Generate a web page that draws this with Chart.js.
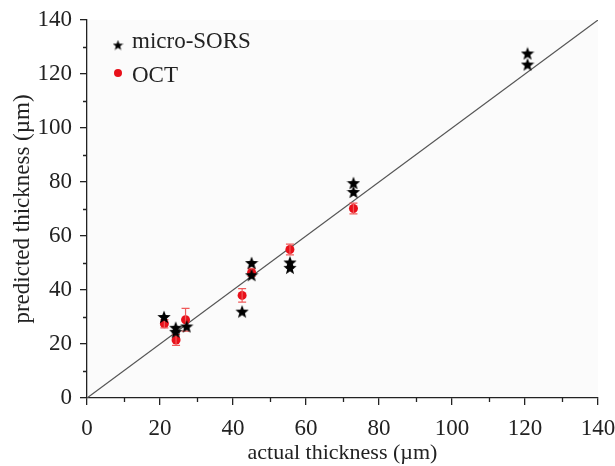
<!DOCTYPE html>
<html>
<head>
<meta charset="utf-8">
<script src="https://cdn.jsdelivr.net/npm/chart.js@4.4.1/dist/chart.umd.min.js"></script>
<style>
  html, body { margin: 0; padding: 0; background: #fff; }
  #wrap { width: 615px; height: 466px; }
</style>
</head>
<body>
<div id="wrap"><canvas id="thicknessChart" width="615" height="466"></canvas></div>
<script>
// values
const sorsX = [21.1, 24.3, 24.3, 27.3, 42.5, 45.1, 45.1, 55.6, 55.6, 73.0, 73.0, 120.7, 120.7];
const sorsY = [30.0, 26.0, 24.5, 26.5, 32.0, 50.0, 45.5, 50.2, 48.2, 79.6, 76.3, 127.6, 123.5];

const octX = [21.2, 24.4, 27.0, 42.5, 45.1, 55.6, 73.0];
const octY = [27.5, 21.5, 29.0, 38.0, 46.5, 55.0, 70.2];
const octErr = [1.5, 2.0, 4.2, 2.5, 1.5, 2.0, 2.0];

const lineX = [0, 140];
const lineY = [0, 140];

const xTicks = [0, 20, 40, 60, 80, 100, 120, 140];
const yTicks = [0, 20, 40, 60, 80, 100, 120, 140];

const labels = ["micro-SORS", "OCT"];
const FONT = "'Liberation Serif', 'DejaVu Serif', serif";

// filled star for the point style
function makeStar(size) {
    const c = document.createElement("canvas");
    c.width = size; c.height = size;
    const g = c.getContext("2d");
    const cx = size / 2, cy = size / 2 + 0.5;
    const R = size / 2, r = R * 0.42;
    g.beginPath();
    for (let i = 0; i < 10; i++) {
        const rad = i % 2 === 0 ? R : r;
        const a = -Math.PI / 2 + i * Math.PI / 5;
        const px = cx + rad * Math.cos(a), py = cy + rad * Math.sin(a);
        if (i === 0) g.moveTo(px, py); else g.lineTo(px, py);
    }
    g.closePath();
    g.fillStyle = "#000";
    g.fill();
    return c;
}
const star = makeStar(14);
const legendStar = makeStar(11);

//Error bars for the OCT points
const errorBars = {
    id: "errorBars",
    afterDatasetsDraw(chart) {
        const ctx = chart.ctx;
        const xs = chart.scales.x, ys = chart.scales.y;
        ctx.save();
        ctx.strokeStyle = "#f05a5a";
        ctx.lineWidth = 1.2;
        octX.forEach((x, i) => {
            const px = xs.getPixelForValue(x);
            const top = ys.getPixelForValue(octY[i] + octErr[i]);
            const bot = ys.getPixelForValue(octY[i] - octErr[i]);
            ctx.beginPath();
            ctx.moveTo(px, top); ctx.lineTo(px, bot);
            ctx.moveTo(px - 4, top); ctx.lineTo(px + 4, top);
            ctx.moveTo(px - 4, bot); ctx.lineTo(px + 4, bot);
            ctx.stroke();
        });
        ctx.restore();
        // stars on top of the red points
        const meta = chart.getDatasetMeta(1);
        meta.data.forEach(p => ctx.drawImage(star, p.x - star.width / 2, p.y - star.height / 2));
    }
};

//Minor ticks and the legend inside the plot
const decorations = {
    id: "decorations",
    beforeDraw(chart) {
        const a = chart.chartArea, ctx = chart.ctx;
        ctx.save();
        ctx.fillStyle = "#fbfbfb";
        ctx.fillRect(a.left, a.top, a.right - a.left, a.bottom - a.top);
        ctx.restore();
    },
    afterDraw(chart) {
        const ctx = chart.ctx;
        const xs = chart.scales.x, ys = chart.scales.y;
        const a = chart.chartArea;
        ctx.save();
        ctx.strokeStyle = "#222";
        ctx.lineWidth = 1.3;
        ctx.beginPath();
        for (let v = 10; v < 140; v += 20) {
            const px = Math.round(xs.getPixelForValue(v)) + 0.5;
            ctx.moveTo(px, a.bottom); ctx.lineTo(px, a.bottom + 4);
            const py = Math.round(ys.getPixelForValue(v)) + 0.5;
            ctx.moveTo(a.left, py); ctx.lineTo(a.left - 4, py);
        }
        ctx.stroke();

        ctx.font = "23px " + FONT;
        ctx.fillStyle = "#222";
        ctx.textBaseline = "alphabetic";
        ctx.drawImage(legendStar, 118 - legendStar.width / 2, 45 - legendStar.height / 2);
        ctx.fillText(labels[0], 132, 48);
        ctx.beginPath();
        ctx.fillStyle = "#e8101a";
        ctx.arc(118, 73, 4, 0, Math.PI * 2);
        ctx.fill();
        ctx.fillStyle = "#222";
        ctx.fillText(labels[1], 132, 82);
        ctx.restore();
    }
};

const ctx = document.getElementById("thicknessChart").getContext("2d");
new Chart(ctx, {
    type: "scatter",
    data: {
        datasets: [
            {
                label: "y = x",
                type: "line",
                data: lineX.map((x, i) => ({x: x, y: lineY[i]})),
                borderColor: "#555",
                borderWidth: 1.2,
                pointRadius: 0,
                fill: false,
                order: 3
            },
            {
                label: labels[0],
                data: sorsX.map((x, i) => ({x: x, y: sorsY[i]})),
                pointStyle: false,
                pointRadius: 0,
                order: 1
            },
            {
                label: labels[1],
                data: octX.map((x, i) => ({x: x, y: octY[i]})),
                backgroundColor: "#e8101a",
                borderColor: "#e8101a",
                pointRadius: 4.5,
                pointBorderWidth: 0,
                order: 2
            }
        ]
    },
    options: {
        responsive: false,
        animation: false,
        layout: { padding: { top: 20, right: 17, left: 0, bottom: 0 } },
        plugins: {
            legend: { display: false },
            tooltip: { enabled: false }
        },
        scales: {
            x: {
                type: "linear",
                min: 0, max: 140,
                afterBuildTicks: s => { s.ticks = xTicks.map(v => ({value: v})); },
                afterFit: s => { s.height = 68; s.paddingRight = 0; s.paddingLeft = 0; },
                grid: { drawOnChartArea: false, tickLength: 7, color: "#222", lineWidth: 1.3 },
                border: { color: "#222", width: 1.3 },
                ticks: { font: { family: FONT, size: 23 }, color: "#222", padding: 10, maxRotation: 0 },
                title: { display: true, text: "actual thickness (µm)", font: { family: FONT, size: 22 }, color: "#222", padding: { top: 0, bottom: 0 } }
            },
            y: {
                type: "linear",
                min: 0, max: 140,
                afterBuildTicks: s => { s.ticks = yTicks.map(v => ({value: v})); },
                afterFit: s => { s.width = 87; s.paddingTop = 0; s.paddingBottom = 0; },
                grid: { drawOnChartArea: false, tickLength: 7, color: "#222", lineWidth: 1.3 },
                border: { color: "#222", width: 1.3 },
                ticks: { font: { family: FONT, size: 23 }, color: "#222", padding: 8 },
                title: { display: true, text: "predicted thickness (µm)", font: { family: FONT, size: 23 }, color: "#222", padding: { top: 9, bottom: 0 } }
            }
        }
    },
    plugins: [errorBars, decorations]
});
</script>
</body>
</html>
